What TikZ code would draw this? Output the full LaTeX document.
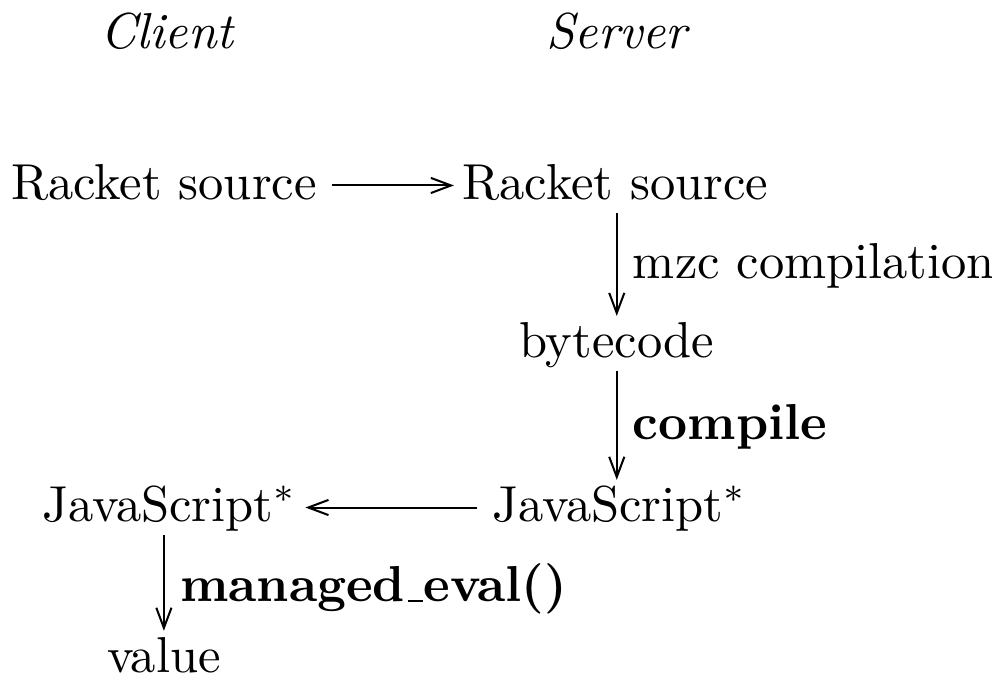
\documentclass[tikz,border=0pt]{standalone}
\usepackage{amsmath, amssymb}
\usetikzlibrary{arrows.meta}
% short underscore as in the old text fonts
\newcommand{\usc}{\leavevmode\kern.06em\vbox{\hrule width.3em}}
\tikzstyle{head} = [font=\itshape, inner sep=1.5pt]
\tikzstyle{obj} = [inner sep=1.5pt, text height=1.5ex, text depth=0.25ex]
\tikzstyle{lbl} = [right, inner sep=3pt, text height=1.5ex, text depth=0.25ex]
\tikzstyle{arrow} = [-{Straight Barb[length=4pt, width=3pt]}]
\tikzstyle{across} = [arrow, shorten <=1.3pt]

\begin{document}
\begin{tikzpicture}[yscale=-1]
\useasboundingbox (0, 0) rectangle (6.90, 4.76);

\node at (1.16, 0.22) (client) [head] {Client};
\node at (4.29, 0.22) (server) [head] {Server};

\node at (1.14, 1.29) (src1) [obj] {Racket source};
\node at (4.28, 1.29) (src2) [obj] {Racket source};
\node at (4.29, 2.39) (bytecode) [obj] {bytecode};
\node at (4.31, 3.53) (js2) [obj] {JavaScript$^*$};
\node at (1.18, 3.53) (js1) [obj] {JavaScript$^*$};
\node at (1.14, 4.58) (value) [obj] {value};

\draw [across] (src1) -- (src2);
\draw [arrow] (src2.south -| bytecode) -- node [lbl] {mzc compilation} (bytecode.north);
\draw [arrow] (bytecode) -- node [lbl] {\textbf{compile}} (bytecode |- js2.north);
\draw [across] (js2) -- (js1);
\draw [arrow] (value |- js1.south) -- node [lbl, yshift=-1pt] {\textbf{managed\usc eval()}} (value);

\end{tikzpicture}
\end{document}
